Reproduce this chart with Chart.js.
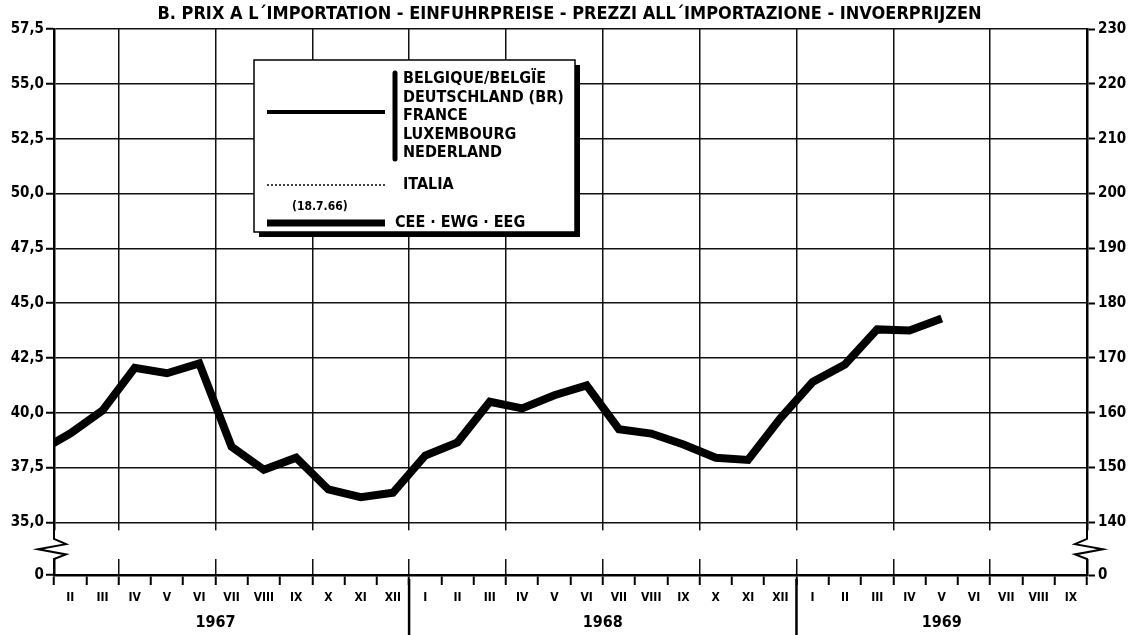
<!DOCTYPE html>
<html>
<head>
<meta charset="utf-8">
<title>Prix à l'importation</title>
<script src="https://cdn.jsdelivr.net/npm/chart.js@4.4.1/dist/chart.umd.min.js"></script>
<style>
  html, body { margin: 0; padding: 0; background: #fff; }
</style>
</head>
<body>
<canvas id="chart" width="1139" height="635"></canvas>
<script>
// --- data ---
const titleText = "B. PRIX A L´IMPORTATION - EINFUHRPREISE - PREZZI ALL´IMPORTAZIONE - INVOERPRIJZEN";
const monthNames = ["I", "II", "III", "IV", "V", "VI", "VII", "VIII", "IX", "X", "XI", "XII"];
const years = ["1967", "1968", "1969"];
// monthly values, Jan 1967 .. May 1969 (left scale)
const ceeValues = [
  38.2, 39.05, 40.1, 42.05, 41.8, 42.25, 38.45, 37.4, 37.95, 36.5, 36.15, 36.35,
  38.05, 38.65, 40.5, 40.2, 40.8, 41.25, 39.25, 39.05, 38.55, 37.95, 37.85, 39.75,
  41.4, 42.2, 43.8, 43.75, 44.3,
];
const leftTicks = [35.0, 37.5, 40.0, 42.5, 45.0, 47.5, 50.0, 52.5, 55.0, 57.5];
const indexFactor = 4; // right scale = 4 x left scale (140 .. 230)
const memberStates = ["BELGIQUE/BELGÏE", "DEUTSCHLAND (BR)", "FRANCE", "LUXEMBOURG", "NEDERLAND"];
const italyLabel = "ITALIA";
const baseDate = "(18.7.66)";
const ceeLabel = "CEE · EWG · EEG";

// axis range in months counted from the start of Jan 1967
const firstMonth = 1;  // start of Feb 1967
const lastMonth = 33;  // end of Sep 1969
const breakGap = 2.4;  // value span used for the broken part down to 0

const FONT = "'DejaVu Sans Condensed', 'Liberation Sans Narrow', 'DejaVu Sans', sans-serif";

const monthTicks = [];
for (let m = firstMonth; m < lastMonth; m++) monthTicks.push(m + 0.5);
const boundaryTicks = [];
for (let m = firstMonth; m <= lastMonth; m++) boundaryTicks.push(m);
const yearMids = years.map((y, i) => (i * 12 + Math.min(i * 12 + 12, lastMonth)) / 2);
const yearStarts = years.slice(1).map((y, i) => (i + 1) * 12);

const decorations = {
  id: "decorations",
  beforeDatasetsDraw(chart) {
    const { ctx, chartArea, scales } = chart;
    const top = scales.y.getPixelForValue(leftTicks[0]) + 8;
    const bottom = scales.y.getPixelForValue(scales.y.min) - 16;
    ctx.save();
    ctx.fillStyle = "#fff";
    ctx.fillRect(chartArea.left - 4, top, chartArea.width + 8, bottom - top);
    ctx.strokeStyle = "#000";
    ctx.lineWidth = 2;
    ctx.lineJoin = "miter";
    const h = bottom - top;
    [[chartArea.left, 1], [chartArea.right, -1]].forEach(([x, d]) => {
      ctx.beginPath();
      ctx.moveTo(x, top - 1);
      ctx.lineTo(x, top + h * 0.3);
      ctx.lineTo(x + 12 * d, top + h * 0.48);
      ctx.lineTo(x - 16 * d, top + h * 0.66);
      ctx.lineTo(x + 12 * d, top + h * 0.84);
      ctx.lineTo(x, top + h);
      ctx.lineTo(x, bottom + 1);
      ctx.stroke();
    });
    ctx.restore();
  },
  afterDraw(chart) {
    const { ctx, chartArea, scales } = chart;
    ctx.save();
    // year separators under the axis
    ctx.strokeStyle = "#000";
    ctx.lineWidth = 2.5;
    yearStarts.forEach((m) => {
      const x = scales.x.getPixelForValue(m);
      ctx.beginPath();
      ctx.moveTo(x, chartArea.bottom + 4);
      ctx.lineTo(x, chart.height);
      ctx.stroke();
    });

    // legend box
    const L = 254, T = 60, R = 575, B = 232;
    ctx.fillStyle = "#000";
    ctx.fillRect(R, T + 5, 5, B - T);
    ctx.fillRect(L + 5, B, R - L, 5);
    ctx.fillStyle = "#fff";
    ctx.fillRect(L, T, R - L, B - T);
    ctx.lineWidth = 1.5;
    ctx.strokeRect(L, T, R - L, B - T);

    ctx.fillStyle = "#000";
    ctx.textBaseline = "middle";
    ctx.textAlign = "left";
    ctx.font = "bold 16px " + FONT;
    memberStates.forEach((s, i) => ctx.fillText(s, 403, 79 + i * 18.5));
    ctx.fillText(italyLabel, 403, 185);
    ctx.fillText(ceeLabel, 395, 223);
    ctx.font = "bold 12px " + FONT;
    ctx.fillText(baseDate, 292, 207);

    // bracket bar
    ctx.lineCap = "round";
    ctx.lineWidth = 5;
    ctx.beginPath();
    ctx.moveTo(395, 73);
    ctx.lineTo(395, 159);
    ctx.stroke();

    // line samples
    ctx.lineCap = "butt";
    ctx.lineWidth = 4;
    ctx.beginPath();
    ctx.moveTo(267, 112);
    ctx.lineTo(385, 112);
    ctx.stroke();
    ctx.lineWidth = 1.5;
    ctx.setLineDash([2, 2]);
    ctx.beginPath();
    ctx.moveTo(267, 185);
    ctx.lineTo(385, 185);
    ctx.stroke();
    ctx.setLineDash([]);
    ctx.lineWidth = 7;
    ctx.beginPath();
    ctx.moveTo(267, 223);
    ctx.lineTo(385, 223);
    ctx.stroke();
    ctx.restore();
  },
};

const yMin = leftTicks[0] - breakGap;
const yMax = leftTicks[leftTicks.length - 1];
const fmtLeft = (v) => (v === yMin ? "0" : v.toFixed(1).replace(".", ","));
const fmtRight = (v) => (v === yMin ? "0" : String(Math.round(v * indexFactor)));

const tickFont = { family: FONT, size: 15, weight: "bold" };

new Chart(document.getElementById("chart"), {
  type: "line",
  data: {
    datasets: [
      {
        label: ceeLabel,
        data: ceeValues.map((v, i) => ({ x: i + 0.5, y: v })),
        borderColor: "#000",
        borderWidth: 8,
        borderJoinStyle: "miter",
        borderCapStyle: "butt",
        pointRadius: 0,
        tension: 0,
        clip: 0,
        xAxisID: "x",
        yAxisID: "y",
      },
    ],
  },
  options: {
    responsive: false,
    animation: false,
    layout: { padding: 0 },
    plugins: {
      legend: { display: false },
      tooltip: { enabled: false },
      title: {
        display: true,
        text: titleText,
        color: "#000",
        font: { family: FONT, size: 18, weight: "bold", lineHeight: "20px" },
        padding: { top: 4, bottom: 5 },
      },
    },
    scales: {
      x: {
        type: "linear",
        position: "bottom",
        min: firstMonth,
        max: lastMonth,
        afterBuildTicks: (s) => { s.ticks = boundaryTicks.map((v) => ({ value: v })); },
        afterFit: (s) => { s.height = 12; },
        ticks: { display: false, autoSkip: false },
        grid: {
          color: (c) => (c.tick && c.tick.value % 3 === 0 ? "#111" : "rgba(0,0,0,0)"),
          lineWidth: 1.5,
          tickColor: "#000",
          tickWidth: 2,
          tickLength: 10,
        },
        border: { display: true, color: "#000", width: 2.5 },
      },
      xMonths: {
        type: "linear",
        position: "bottom",
        min: firstMonth,
        max: lastMonth,
        afterBuildTicks: (s) => { s.ticks = monthTicks.map((v) => ({ value: v })); },
        afterFit: (s) => { s.height = 22; },
        ticks: {
          autoSkip: false,
          maxRotation: 0,
          padding: 4,
          color: "#000",
          font: { family: FONT, size: 12, weight: "bold" },
          callback: (v) => monthNames[Math.floor(v) % 12],
        },
        grid: { display: false, drawTicks: false },
        border: { display: false },
      },
      xYears: {
        type: "linear",
        position: "bottom",
        min: firstMonth,
        max: lastMonth,
        afterBuildTicks: (s) => { s.ticks = yearMids.map((v) => ({ value: v })); },
        afterFit: (s) => { s.height = 26; },
        ticks: {
          autoSkip: false,
          maxRotation: 0,
          padding: 4,
          color: "#000",
          font: { family: FONT, size: 16, weight: "bold" },
          callback: (v, i) => years[i],
        },
        grid: { display: false, drawTicks: false },
        border: { display: false },
      },
      y: {
        type: "linear",
        position: "left",
        min: yMin,
        max: yMax,
        afterBuildTicks: (s) => { s.ticks = [yMin, ...leftTicks].map((v) => ({ value: v })); },
        afterFit: (s) => { s.width = 54; },
        ticks: { color: "#000", font: tickFont, padding: 2, callback: fmtLeft },
        grid: { color: "#111", lineWidth: 1.5, tickColor: "#000", tickWidth: 2, tickLength: 8 },
        border: { display: true, color: "#000", width: 2.5 },
      },
      y2: {
        type: "linear",
        position: "right",
        min: yMin,
        max: yMax,
        afterBuildTicks: (s) => { s.ticks = [yMin, ...leftTicks].map((v) => ({ value: v })); },
        afterFit: (s) => { s.width = 52; },
        ticks: { color: "#000", font: tickFont, padding: 3, callback: fmtRight },
        grid: { drawOnChartArea: false, tickColor: "#000", tickWidth: 2, tickLength: 8 },
        border: { display: true, color: "#000", width: 2.5 },
      },
    },
  },
  plugins: [decorations],
});
</script>
</body>
</html>
